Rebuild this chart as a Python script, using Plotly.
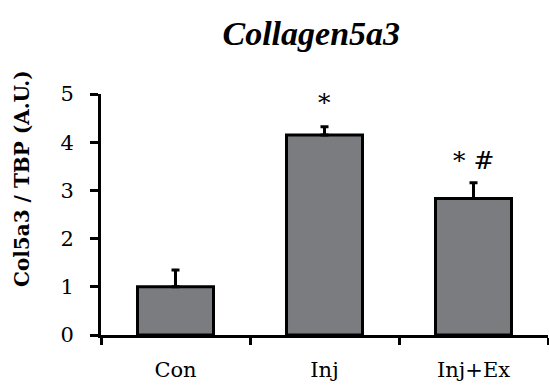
import plotly.graph_objects as go

groups = ["Con", "Inj", "Inj+Ex"]
means = [1.0, 4.15, 2.83]
sems = [0.35, 0.17, 0.33]
marks = ["", "*", "* #"]
mark_levels = [None, 4.83, 3.63]

serif = "DejaVu Serif"
title_serif = "Liberation Serif"

fig = go.Figure()
fig.add_trace(go.Bar(
    x=groups, y=means, width=0.51,
    marker=dict(color="#7b7c80", line=dict(color="black", width=3)),
    error_y=dict(type="data", array=sems, arrayminus=[0] * len(sems),
                 symmetric=False, color="black", thickness=3, width=4),
))

for g, m, lvl in zip(groups, marks, mark_levels):
    if m:
        fig.add_annotation(x=g, y=lvl, text=m, showarrow=False,
                           font=dict(family=serif, size=25, color="black"),
                           yanchor="middle")

# y-axis label placed as a rotated annotation so it sits slightly above centre
fig.add_annotation(xref="paper", yref="paper", x=-0.177, y=0.651,
                   text="<b>Col5a3 / TBP (A.U.)</b>", textangle=-90,
                   showarrow=False, xanchor="center", yanchor="middle",
                   font=dict(family=serif, size=20, color="black"))

fig.update_layout(
    width=549, height=392,
    margin=dict(l=101, r=1, t=94, b=57),
    paper_bgcolor="white", plot_bgcolor="white",
    showlegend=False,
    title=dict(text="<b><i>Collagen5a3</i></b>", x=0.567, xanchor="center", y=0.915,
               yanchor="middle",
               font=dict(family=title_serif, size=34, color="black")),
    xaxis=dict(showline=True, linecolor="black", linewidth=3,
               ticks="outside", tickson="boundaries", ticklen=7, tickwidth=3,
               tickcolor="black", showgrid=False, ticklabelstandoff=14,
               tickfont=dict(family=serif, size=21, color="black")),
    yaxis=dict(range=[0, 5], dtick=1, showline=True, linecolor="black", linewidth=3,
               ticks="outside", ticklen=8, tickwidth=3, tickcolor="black",
               showgrid=False, zeroline=False, ticklabelstandoff=12,
               tickfont=dict(family=serif, size=21, color="black")),
)

fig.write_html("out.html")
